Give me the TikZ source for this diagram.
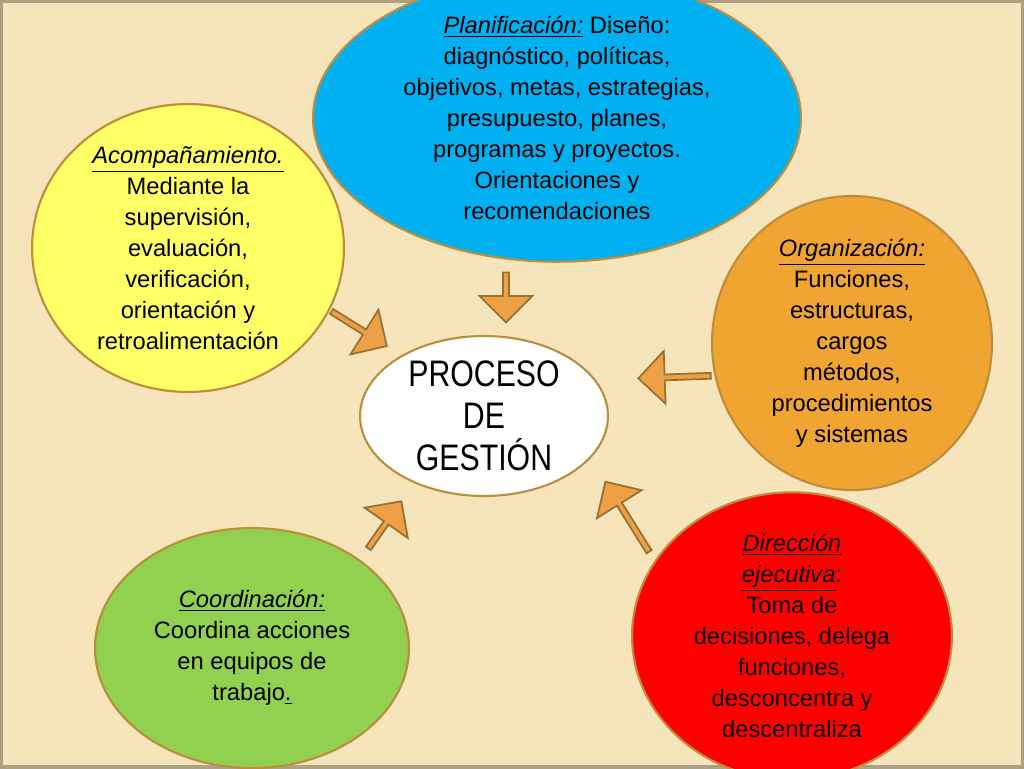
\documentclass[tikz,border=0pt]{standalone}
\usepackage{fontspec}
\setmainfont{Liberation Sans}
\usetikzlibrary{shapes.arrows, shapes.geometric}
\definecolor{fondo}{RGB}{246,228,186}
\definecolor{borde}{RGB}{190,140,60}
\definecolor{flecha}{RGB}{238,160,70}
\definecolor{celeste}{RGB}{0,176,240}
\definecolor{amarillo}{RGB}{255,255,102}
\definecolor{naranja}{RGB}{240,165,50}
\definecolor{verde}{RGB}{146,208,80}
\definecolor{rojo}{RGB}{255,0,0}
\tikzset{
  elipse/.style={draw=borde, line width=1.2pt, ellipse, inner sep=0pt, align=center,
    font=\fontsize{13.5}{17.6}\selectfont},
  bloque/.style={single arrow, draw=borde!80!black, fill=flecha, line width=1pt,
    minimum height=#1, single arrow head extend=4pt, minimum width=30pt, inner sep=0pt}
}
\begin{document}
\begin{tikzpicture}[x=0.02cm, y=-0.02cm]
\useasboundingbox (0,0) rectangle (1024,768);
\fill[fondo] (0,0) rectangle (1024,768);
\draw[fondo!70!black, line width=2pt] (1,1) rectangle (1023,767);

% Elipses
\node[elipse, fill=celeste, minimum width=9.76cm, minimum height=4.6cm] (plan) at (557,118)
  {\textit{\underline{Planificación:}} Diseño:\\ diagnóstico, políticas,\\ objetivos, metas, estrategias,\\ presupuesto, planes,\\ programas y proyectos.\\ Orientaciones y\\ recomendaciones};
\node[elipse, fill=amarillo, minimum width=6.24cm, minimum height=5.76cm] (acomp) at (188,248)
  {\textit{\underline{Acompañamiento.}}\\ Mediante la\\ supervisión,\\ evaluación,\\ verificación,\\ orientación y\\ retroalimentación};
\node[elipse, fill=naranja, minimum width=5.6cm, minimum height=4.8cm] (organ) at (852,343)
  {\textit{\underline{Organización:}}\\ Funciones,\\ estructuras,\\ cargos\\ métodos,\\ procedimientos\\ y sistemas};
\node[elipse, fill=white, minimum width=4.96cm, minimum height=3.2cm,
  font=\fontsize{21}{24}\selectfont] (proceso) at (484,416)
  {\scalebox{0.82}[1]{PROCESO}\\ \scalebox{0.82}[1]{DE}\\ \scalebox{0.82}[1]{GESTIÓN}};
\node[elipse, fill=verde, minimum width=6.28cm, minimum height=4.8cm] (coord) at (252,648)
  {\textit{\underline{Coordinación:}}\\ Coordina acciones\\ en equipos de\\ trabajo\underline{.}};
\node[elipse, fill=rojo, minimum width=6.4cm, minimum height=5.28cm] (direc) at (792,636)
  {\textit{\underline{Dirección}}\\ \textit{\underline{ejecutiva}}:\\ Toma de\\ decisiones, delega\\ funciones,\\ desconcentra y\\ descentraliza};

% Flechas
\node[bloque=1.0cm, rotate=-90] (f1) at (506,296) {};
\node[bloque=1.45cm, rotate=182] (f2) at (676,377) {};
\node[bloque=1.3cm, rotate=-32] (f3) at (358,328) {};
\node[bloque=1.15cm, rotate=55] (f4) at (384,526) {};
\node[bloque=1.65cm, rotate=122] (f5) at (628,518) {};
\end{tikzpicture}
\end{document}
